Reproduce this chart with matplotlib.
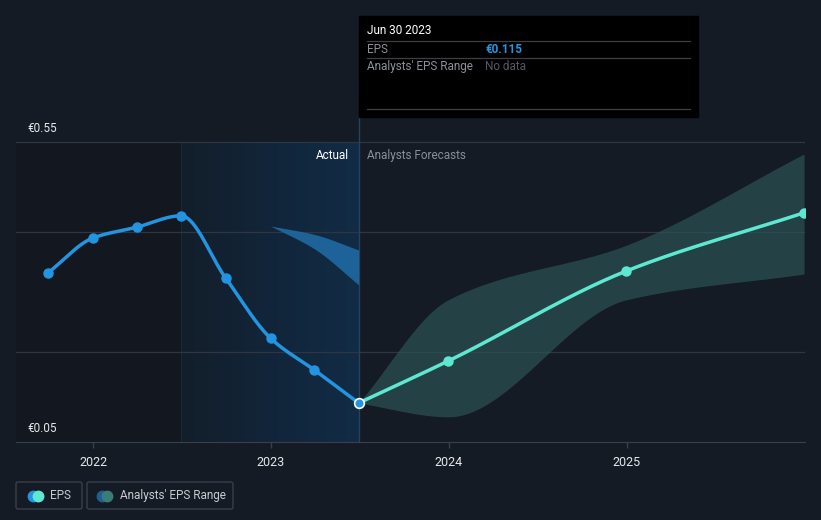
import datetime
import numpy as np
import matplotlib
matplotlib.use("Agg")
import matplotlib.pyplot as plt
import matplotlib.dates as mdates
from matplotlib.patches import Rectangle, FancyBboxPatch
from matplotlib.colors import LinearSegmentedColormap

plt.rcParams['font.family'] = ['Roboto', 'DejaVu Sans']

# EPS actuals (EUR)
eps_dates = ["2021-09-30", "2021-12-31", "2022-03-31", "2022-06-30",
             "2022-09-30", "2022-12-31", "2023-03-31", "2023-06-30"]
eps_values = [0.332, 0.390, 0.408, 0.427, 0.323, 0.223, 0.170, 0.115]

# analysts' forecast
fc_dates = ["2023-06-30", "2023-12-31", "2024-12-31", "2025-12-31"]
fc_values = [0.115, 0.185, 0.335, 0.432]
fc_low = [0.115, 0.092, 0.287, 0.330]
fc_high = [0.115, 0.287, 0.378, 0.530]

# older forecast band visible inside the actual period
old_dates = ["2022-12-31", "2023-03-31", "2023-06-30"]
old_low = [0.410, 0.372, 0.312]
old_high = [0.410, 0.396, 0.370]

year_ticks = ["2022", "2023", "2024", "2025"]

BG = "#151b25"
BLUE = "#2394df"
TEAL = "#5fe8d1"


def to_num(ds):
    return np.array([mdates.date2num(datetime.datetime.strptime(d, "%Y-%m-%d")) for d in ds])


def monotone(x, y, n=200):
    # monotone cubic (Fritsch-Carlson), like d3 curveMonotoneX
    x = np.asarray(x, float)
    y = np.asarray(y, float)
    h = np.diff(x)
    d = np.diff(y) / h
    m = np.zeros_like(y)
    m[0], m[-1] = d[0], d[-1]
    for i in range(1, len(y) - 1):
        if d[i - 1] * d[i] <= 0:
            m[i] = 0
        else:
            m[i] = (3 * (h[i - 1] + h[i])) / ((2 * h[i] + h[i - 1]) / d[i - 1] + (h[i] + 2 * h[i - 1]) / d[i])
    xs, ys = [], []
    for i in range(len(h)):
        t = np.linspace(0, 1, n)
        h00 = 2 * t**3 - 3 * t**2 + 1
        h10 = t**3 - 2 * t**2 + t
        h01 = -2 * t**3 + 3 * t**2
        h11 = t**3 - t**2
        xs.append(x[i] + t * h[i])
        ys.append(h00 * y[i] + h10 * h[i] * m[i] + h01 * y[i + 1] + h11 * h[i] * m[i + 1])
    return np.concatenate(xs), np.concatenate(ys)


ex = to_num(eps_dates)
fx = to_num(fc_dates)
ox = to_num(old_dates)

fig = plt.figure(figsize=(8.21, 5.2), dpi=100, facecolor=BG)
ax = fig.add_axes([16 / 821, 78 / 520, 789 / 821, 325 / 520])
ax.set_facecolor(BG)

ymin, ytop = 0.05, 0.55
ax.set_ylim(ymin, ytop + 25 / 600)
x0 = mdates.date2num(datetime.datetime(2021, 7, 26))
x1 = mdates.date2num(datetime.datetime(2026, 1, 2))
ax.set_xlim(x0, x1)

split_past = ex[3]
now = ex[-1]

# background regions
ax.add_patch(Rectangle((x0, ymin), split_past - x0, ytop - ymin, color="#13171f", zorder=0, lw=0))
grad = np.linspace(0, 1, 256)[None, :]
cm = LinearSegmentedColormap.from_list("g", ["#131e2a", "#12253a", "#112c45"])
ax.imshow(grad, cmap=cm, extent=[split_past, now, ymin, ytop], aspect="auto", zorder=0.5,
          interpolation="bicubic")
ax.plot([split_past, split_past], [ymin, ytop], color="#182a3a", lw=0.8, zorder=0.6)

# gridlines
for gy in [0.2, 0.4, 0.55]:
    ax.axhline(gy, color="#2f3641", lw=0.9, zorder=1)

# vertical marker line
ax.plot([now, now], [ymin, ytop + 25 / 600], color="#27425a", lw=1, zorder=1.5, clip_on=False)

# old forecast band
bx, bl = monotone(ox, old_low)
_, bh = monotone(ox, old_high)
ax.fill_between(bx, bl, bh, color="#1f6aa3", alpha=0.9, lw=0, zorder=2)

# forecast band
fxs, fl = monotone(fx, fc_low)
_, fh = monotone(fx, fc_high)
ax.fill_between(fxs, fl, fh, color="#2c5655", alpha=0.68, lw=0, zorder=2)

# EPS line
sx, sy = monotone(ex, eps_values)
ax.plot(sx, sy, color=BLUE, lw=2.5, zorder=4, solid_capstyle="round")
ax.plot(ex[:-1], eps_values[:-1], "o", color=BLUE, ms=6.5, zorder=5)

# forecast line
gx, gy_ = monotone(fx, fc_values)
ax.plot(gx, gy_, color=TEAL, lw=2.5, zorder=4)
ax.plot(fx[1:], fc_values[1:], "o", color=TEAL, ms=6.5, zorder=5)
ax.plot(ex[-1], eps_values[-1], "o", color=BLUE, ms=7, mec="white", mew=1.2, zorder=6)

# axes styling
for s in ["top", "right", "left"]:
    ax.spines[s].set_visible(False)
ax.spines["bottom"].set_color("#3a404a")
ax.set_yticks([])
tick_pos = [mdates.date2num(datetime.datetime(int(y), 1, 1)) for y in year_ticks]
ax.set_xticks(tick_pos)
ax.set_xticklabels(year_ticks)
ax.tick_params(axis="x", colors="#3a404a", length=4, width=1, labelcolor="#e6e8ea",
               labelsize=9, pad=6)

# y labels
for val in [0.55, 0.05]:
    ax.annotate(f"€{val:.2f}", xy=(0, val), xycoords=("axes fraction", "data"),
                xytext=(8, 5), textcoords="offset points", color="#e6e8ea",
                fontsize=8.5, va="bottom", ha="left")

ax.annotate("Actual", xy=(now, ytop), xytext=(-7, -5), textcoords="offset points",
            color="#ffffff", fontsize=8.5, ha="right", va="top")
ax.annotate("Analysts Forecasts", xy=(now, ytop), xytext=(6, -5), textcoords="offset points",
            color="#8a8f96", fontsize=8.5, ha="left", va="top")

# overlay in pixel coordinates for tooltip and legend
ov = fig.add_axes([0, 0, 1, 1], zorder=10)
ov.set_xlim(0, 821)
ov.set_ylim(520, 0)
ov.axis("off")
ov.patch.set_alpha(0)

ov.add_patch(Rectangle((359, 16), 339, 101, color="#000000"))
for ly in [41, 58, 109]:
    ov.plot([367, 690], [ly, ly], color="#3c3f44", lw=0.9)
ov.text(367, 31, "Jun 30 2023", color="#ffffff", fontsize=8.5, va="center")
ov.text(367, 49.5, "EPS", color="#8d9197", fontsize=8.5, va="center")
ov.text(485, 49.5, "€0.115", color="#2a94dc", fontsize=8.5, va="center", fontweight="bold")
ov.text(367, 66.5, "Analysts' EPS Range", color="#8d9197", fontsize=8.5, va="center")
ov.text(485, 66.5, "No data", color="#55595f", fontsize=8.5, va="center")

# legend boxes
ov.add_patch(FancyBboxPatch((16, 482), 66, 27, boxstyle="round,pad=0,rounding_size=2",
                            fc="none", ec="#3a404a", lw=1))
ov.add_patch(FancyBboxPatch((87, 482), 146, 27, boxstyle="round,pad=0,rounding_size=2",
                            fc="none", ec="#3a404a", lw=1))
ov.plot([33], [495.5], "o", color=BLUE, ms=7.5)
ov.plot([38], [495.5], "o", color=TEAL, ms=7.5)
ov.text(50, 495.5, "EPS", color="#c8cbcf", fontsize=8.5, va="center")
ov.plot([102], [495.5], "o", color="#1f5f8f", ms=7.5)
ov.plot([107], [495.5], "o", color="#3a7c78", ms=7.5)
ov.text(120, 495.5, "Analysts' EPS Range", color="#c8cbcf", fontsize=8.5, va="center")

fig.savefig("out.png", dpi=100, facecolor=BG)
